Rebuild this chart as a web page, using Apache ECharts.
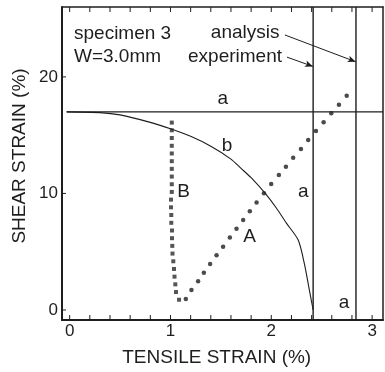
<!DOCTYPE html>
<html>
<head>
<meta charset="utf-8">
<script src="https://cdn.jsdelivr.net/npm/echarts@6/dist/echarts.min.js"></script>
<style>
  html, body { margin: 0; padding: 0; background: #fff; }
  #chart { width: 385px; height: 372px; }
</style>
</head>
<body>
<div id="chart"></div>
<script>
// Axis ranges, tick marks and tick labels
const xRange = [-0.076, 3.108];
const yRange = [-0.86, 26];
const xTickValues = [0, 0.2, 0.4, 0.6, 0.8, 1, 1.2, 1.4, 1.6, 1.8, 2, 2.2, 2.4, 2.6, 2.8, 3];
const yTickValues = [0, 10, 20];
const xLabelValues = [0, 1, 2, 3];
const yLabelValues = [0, 10, 20];

// a: limit lines (shear limit, experimental and analytical tensile limits)
const shearLimitA = 17;
const aLineStartX = -0.03;
const experimentLimitX = 2.415;
const analysisLimitX = 2.84;

// b: interaction curve
const curveB = [
  [-0.03, 17.0], [0.3, 16.94], [0.5, 16.74], [0.8, 16.1], [1.0, 15.55], [1.2, 14.9],
  [1.4, 14.05], [1.6, 12.95], [1.7, 12.15], [1.8, 11.35], [1.94, 10.0],
  [2.05, 8.75], [2.15, 7.45], [2.267, 6.0], [2.33, 3.9], [2.38, 1.6], [2.415, 0]
];

// B: loading path (squares)
const pathBx = [1.013, 1.013, 1.013, 1.013, 1.013, 1.013, 1.013, 1.013, 1.013, 1.013,
  1.005, 1.005, 1.008, 1.008, 1.015, 1.015, 1.018, 1.02, 1.028, 1.035, 1.04, 1.048, 1.055, 1.085];
const pathBy = [16.08, 15.42, 14.76, 14.09, 13.43, 12.77, 12.11, 11.45, 10.79, 10.13,
  9.47, 8.81, 8.15, 7.48, 6.82, 6.16, 5.50, 4.84, 4.18, 3.52, 2.86, 2.20, 1.54, 0.88];

// A: loading path (dots)
const pathAx = [1.152, 1.208, 1.274, 1.331, 1.393, 1.457, 1.522, 1.589, 1.655, 1.721, 1.787, 1.854,
  1.927, 1.999, 2.075, 2.145, 2.217, 2.294, 2.366, 2.443, 2.519, 2.595, 2.671, 2.748];
const pathAy = [0.94, 1.72, 2.46, 3.20, 3.95, 4.70, 5.43, 6.21, 6.98, 7.73, 8.47, 9.23,
  10.02, 10.82, 11.59, 12.30, 13.07, 13.82, 14.59, 15.36, 16.11, 16.88, 17.62, 18.39];

// Leader arrows from the legend words to the limit lines
const analysisArrow = [[2.135, 23.6], [2.837, 21.3]];
const experimentArrow = [[2.155, 21.7], [2.413, 20.9]];

const ink = '#1e1e1e';
const font = '"Liberation Sans", Arial, Helvetica, sans-serif';
const hidden = { show: false };

const zip = (xs, ys) => xs.map((x, i) => [x, ys[i]]);

const chart = echarts.init(document.getElementById('chart'), null, { renderer: 'canvas' });

function txt(text, x, y, align, size) {
  return {
    type: 'text', x: x, y: y, silent: true,
    style: { text: text, font: (size || 19) + 'px ' + font, fill: ink, align: align || 'center', verticalAlign: 'middle' }
  };
}

// Inward tick marks on the frame: bottom and top for x, left for y
function renderTick(params, api) {
  const kind = api.value(0);
  const v = api.value(1);
  let p, q;
  if (kind === 0) {        // bottom x tick
    p = api.coord([v, yRange[0]]);
    q = [p[0], p[1] - 5];
  } else if (kind === 1) { // top x tick
    p = api.coord([v, yRange[1]]);
    q = [p[0], p[1] + 5];
  } else {                 // left y tick
    p = api.coord([xRange[0], v]);
    q = [p[0] + 4, p[1]];
  }
  return {
    type: 'line',
    shape: { x1: p[0], y1: p[1], x2: q[0], y2: q[1] },
    style: { stroke: ink, lineWidth: 1 }
  };
}

const tickData = []
  .concat(xTickValues.map(v => [0, v]))
  .concat(xTickValues.map(v => [1, v]))
  .concat(yTickValues.map(v => [2, v]));

chart.setOption({
  animation: false,
  backgroundColor: '#fff',
  grid: { left: 62, right: 2, top: 7, bottom: 52, containLabel: false },
  xAxis: [
    {
      type: 'value', position: 'bottom', min: xRange[0], max: xRange[1],
      splitLine: hidden, axisTick: hidden,
      axisLine: { show: true, onZero: false, lineStyle: { color: ink, width: 2 } },
      axisLabel: { show: true, customValues: xLabelValues, margin: 3, color: ink, fontSize: 17, fontFamily: font }
    },
    {
      type: 'value', position: 'top', min: xRange[0], max: xRange[1],
      splitLine: hidden, axisTick: hidden, axisLabel: hidden,
      axisLine: { show: true, onZero: false, lineStyle: { color: ink, width: 1.5 } }
    }
  ],
  yAxis: [
    {
      type: 'value', position: 'left', min: yRange[0], max: yRange[1],
      splitLine: hidden, axisTick: hidden,
      axisLine: { show: true, onZero: false, lineStyle: { color: ink, width: 2 } },
      axisLabel: { show: true, customValues: yLabelValues, margin: 4, color: ink, fontSize: 17, fontFamily: font }
    },
    {
      type: 'value', position: 'right', min: yRange[0], max: yRange[1],
      splitLine: hidden, axisTick: hidden, axisLabel: hidden,
      axisLine: { show: true, onZero: false, lineStyle: { color: ink, width: 1.5 } }
    }
  ],
  series: [
    {
      name: 'ticks', type: 'custom', clip: false, silent: true,
      encode: { x: 1, y: 1 },
      renderItem: renderTick,
      data: tickData
    },
    {
      name: 'a', type: 'line', symbol: 'none',
      data: [[aLineStartX, shearLimitA], [xRange[1], shearLimitA]],
      lineStyle: { color: ink, width: 1.1 }
    },
    {
      name: 'experiment', type: 'line', symbol: 'none',
      data: [[experimentLimitX, yRange[0]], [experimentLimitX, yRange[1]]],
      lineStyle: { color: ink, width: 1.4 },
      markLine: {
        silent: true, symbol: ['none', 'arrow'], symbolSize: [5, 8],
        lineStyle: { color: ink, width: 1, type: 'solid' }, label: { show: false },
        data: [
          [{ coord: analysisArrow[0] }, { coord: analysisArrow[1] }],
          [{ coord: experimentArrow[0] }, { coord: experimentArrow[1] }]
        ]
      }
    },
    {
      name: 'analysis', type: 'line', symbol: 'none',
      data: [[analysisLimitX, yRange[0]], [analysisLimitX, yRange[1]]],
      lineStyle: { color: ink, width: 1.4 }
    },
    {
      name: 'b', type: 'line', symbol: 'none', smooth: 0.25,
      data: curveB,
      lineStyle: { color: ink, width: 1.1 }
    },
    {
      name: 'B', type: 'scatter', symbol: 'rect', symbolSize: 4,
      data: zip(pathBx, pathBy),
      itemStyle: { color: '#2a2a2a' }
    },
    {
      name: 'A', type: 'scatter', symbol: 'circle', symbolSize: 4.5,
      data: zip(pathAx, pathAy),
      itemStyle: { color: '#1e1e1e' }
    }
  ],
  graphic: [
    txt('specimen 3', 74, 33.7, 'left'),
    txt('W=3.0mm', 74, 56.7, 'left'),
    txt('analysis', 279.5, 33.2, 'right'),
    txt('experiment', 282, 56.7, 'right'),
    txt('a', 222.7, 98.5),
    txt('b', 227, 146),
    txt('B', 183.7, 191.7),
    txt('A', 249.5, 237),
    txt('a', 303.3, 191.7),
    txt('a', 344, 302.7),
    txt('TENSILE STRAIN (%)', 216.7, 358),
    Object.assign(txt('SHEAR STRAIN (%)', 20, 156), { rotation: Math.PI / 2 })
  ]
});
</script>
</body>
</html>
